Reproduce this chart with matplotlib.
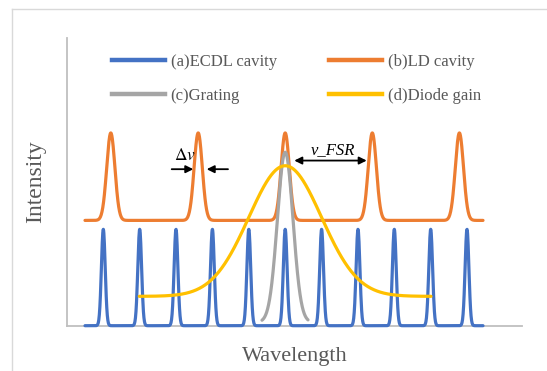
import numpy as np
import matplotlib
matplotlib.use("Agg")
import matplotlib.pyplot as plt
from matplotlib.lines import Line2D

plt.rcParams['mathtext.fontset'] = 'stix'
SERIF = 'Liberation Serif'

# ---- data (arbitrary units: x = wavelength, y = intensity) ----
labels = ['(a)ECDL cavity', '(b)LD cavity', '(c)Grating', '(d)Diode gain']
colors = ['#4472C4', '#ED7D31', '#A5A5A5', '#FFC000']

ecdl_centers = [36.3, 72.7, 109.0, 145.4, 181.8, 218.2, 254.6, 291.0, 327.3, 363.7, 400.0]
ecdl_base, ecdl_amp, ecdl_sigma = 0.0, 33.5, 1.9
ecdl_range = (18.0, 416.0)

ld_centers = [43.8, 131.2, 218.2, 305.3, 392.4]
ld_base, ld_amp, ld_sigma = 36.6, 30.4, 4.1
ld_range = (18.0, 416.0)

grating_center, grating_base, grating_amp, grating_sigma = 218.2, 1.2, 59.1, 7.8
grating_range = (195.0, 241.0)

gain_center, gain_base, gain_amp, gain_sigma = 218.2, 10.2, 45.4, 36.3
gain_range = (72.3, 364.0)


def peaks(xr, centers, base, amp, sigma, n=1500):
    x = np.linspace(xr[0], xr[1], n)
    y = np.full_like(x, base)
    for c in centers:
        y += amp * np.exp(-(x - c) ** 2 / (2 * sigma ** 2))
    return x, y


W, H = 547, 371
fig = plt.figure(figsize=(W / 100, H / 100), dpi=100)
ax = fig.add_axes([67 / W, (H - 325.7) / H, (521.7 - 67) / W, (325.7 - 38) / H])
ax.set_xlim(0, 454.7)
ax.set_ylim(0, 100)

lw = 2.3
x, y = peaks(ecdl_range, ecdl_centers, ecdl_base, ecdl_amp, ecdl_sigma)
ax.plot(x, y, color=colors[0], lw=lw, label=labels[0], clip_on=False, zorder=3,
        solid_capstyle='round')
x, y = peaks(ld_range, ld_centers, ld_base, ld_amp, ld_sigma)
ax.plot(x, y, color=colors[1], lw=lw, label=labels[1], zorder=4, solid_capstyle='round')
x, y = peaks(grating_range, [grating_center], grating_base, grating_amp, grating_sigma)
ax.plot(x, y, color=colors[2], lw=lw, label=labels[2], zorder=5, solid_capstyle='round')
x, y = peaks(gain_range, [gain_center], gain_base, gain_amp, gain_sigma)
ax.plot(x, y, color=colors[3], lw=lw, label=labels[3], zorder=6, solid_capstyle='round')

# spines
for s in ['top', 'right']:
    ax.spines[s].set_visible(False)
for s in ['left', 'bottom']:
    ax.spines[s].set_color('#BFBFBF')
    ax.spines[s].set_linewidth(1.3)
ax.set_xticks([])
ax.set_yticks([])

ax.set_xlabel('Wavelength', family=SERIF, fontsize=16, color='#595959', labelpad=15)
ax.set_ylabel('Intensity', family=SERIF, fontsize=17, color='#595959', labelpad=15)

# annotations
ap = dict(arrowstyle='-|>', color='black', lw=1.3, mutation_scale=11, shrinkA=0, shrinkB=0)
ax.annotate('', xy=(126.3, 54.4), xytext=(104.7, 54.4), arrowprops=ap, zorder=7)
ax.annotate('', xy=(139.7, 54.4), xytext=(161.0, 54.4), arrowprops=ap, zorder=7)
ax.text(117.5, 59.4, r'$\Delta v$', fontsize=12.5, ha='center', va='center', zorder=7)
ap2 = dict(arrowstyle='<|-|>', color='black', lw=1.3, mutation_scale=11, shrinkA=0, shrinkB=0)
ax.annotate('', xy=(227.3, 57.4), xytext=(299.7, 57.4), arrowprops=ap2, zorder=7)
ax.text(266, 61.2, 'v_FSR', family=SERIF, style='italic', fontsize=12,
        ha='center', va='center', zorder=7)

# legend
handles = [Line2D([], [], color=c, lw=3.2) for c in colors]
order = [0, 2, 1, 3]
leg = ax.legend([handles[i] for i in order], [labels[i] for i in order], ncol=2,
                loc='upper left', bbox_to_anchor=(44.7 / 454.7, 0.946), frameon=False,
                prop={'family': SERIF, 'size': 12}, handlelength=3.2,
                handletextpad=0.34, columnspacing=3.14, labelspacing=1.08,
                borderaxespad=0, borderpad=0)
for t in leg.get_texts():
    t.set_color('#595959')

# outer chart border (cropped)
fig.add_artist(Line2D([12 / W, 12 / W], [0, 1 - 8.5 / H], color='#D9D9D9', lw=1.0,
                      transform=fig.transFigure))
fig.add_artist(Line2D([12 / W, 1], [1 - 8.5 / H, 1 - 8.5 / H], color='#D9D9D9', lw=1.0,
                      transform=fig.transFigure))

fig.savefig('out.png', dpi=100)
